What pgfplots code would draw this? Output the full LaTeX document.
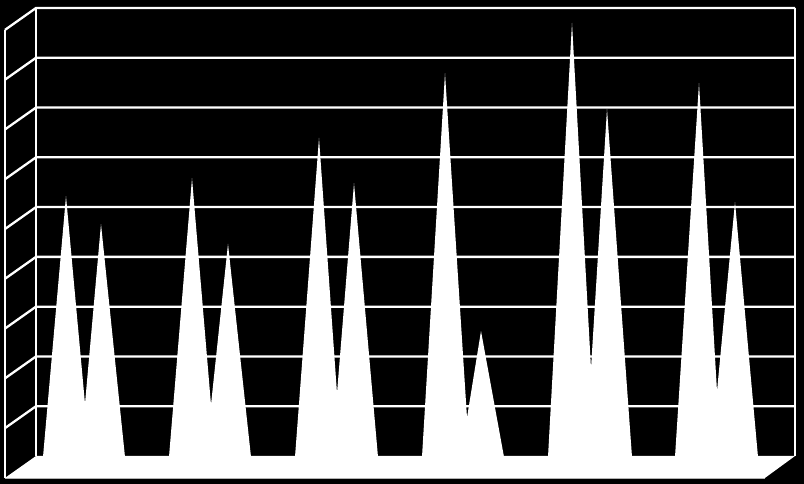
\documentclass[border=0pt]{standalone}
\usepackage{pgfplots}
\pgfplotsset{compat=1.18}
% x in reference pixels, y in gridline units
\pgfplotsset{
	grid line/.style={no marks, draw=white, line width=2.3pt},
	cone/.style={no marks, fill=white, draw=none},
}
\begin{document}
\begin{tikzpicture}
	\begin{axis}[
		scale only axis, width=804pt, height=484pt,
		xmin=0, xmax=804, ymin=-0.5625, ymax=9.1605,
		ticks=none, axis line style={draw=none},
		axis background/.style={fill=black},
	]
		% walls and gridlines
		\addplot[grid line] coordinates {(5,8.56) (36,9) (795,9)};
		\addplot[grid line] coordinates {(5,7.56) (36,8) (795,8)};
		\addplot[grid line] coordinates {(5,6.56) (36,7) (795,7)};
		\addplot[grid line] coordinates {(5,5.56) (36,6) (795,6)};
		\addplot[grid line] coordinates {(5,4.56) (36,5) (795,5)};
		\addplot[grid line] coordinates {(5,3.56) (36,4) (795,4)};
		\addplot[grid line] coordinates {(5,2.56) (36,3) (795,3)};
		\addplot[grid line] coordinates {(5,1.56) (36,2) (795,2)};
		\addplot[grid line] coordinates {(5,0.56) (36,1) (795,1)};
		\addplot[grid line] coordinates {(5,8.56) (5,-0.44)};
		\addplot[grid line] coordinates {(36,9) (36,0)};
		\addplot[grid line] coordinates {(795,9) (795,0)};

		% floor
		\addplot[cone] coordinates {(5,-0.44) (36,0) (795,0) (765,-0.44)} -- cycle;
		\addplot[no marks, draw=white!70!black, line width=1pt] coordinates {(5,-0.46) (765,-0.46)};

		% cone pairs
		\addplot[cone] coordinates {(43,-0.02) (66,5.22) (85,1.05) (101,4.66) (125,-0.02)} -- cycle;
		\addplot[cone] coordinates {(169,-0.02) (192,5.58) (211,1.03) (228,4.26) (251,-0.02)} -- cycle;
		\addplot[cone] coordinates {(295,-0.02) (319,6.39) (337,1.26) (354,5.48) (378,-0.02)} -- cycle;
		\addplot[cone] coordinates {(422,-0.02) (445,7.69) (467,0.77) (481,2.51) (504,-0.02)} -- cycle;
		\addplot[cone] coordinates {(548,-0.02) (572,8.70) (591,1.76) (607,6.97) (632,-0.02)} -- cycle;
		\addplot[cone] coordinates {(675,-0.02) (699,7.49) (717,1.30) (735,5.10) (758,-0.02)} -- cycle;
	\end{axis}
\end{tikzpicture}
\end{document}
